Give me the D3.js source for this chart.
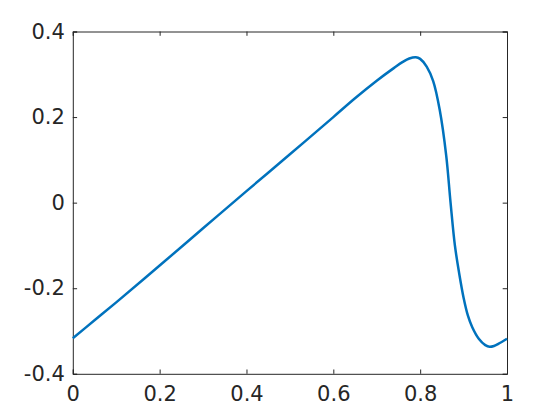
<!DOCTYPE html>
<html>
<head>
<meta charset="utf-8">
<script src="https://cdn.jsdelivr.net/npm/d3@7"></script>
<style>
	html, body { margin: 0; padding: 0; background: #fff; }
	svg { display: block; }
	.tick text { font-family: "DejaVu Sans", sans-serif; }
</style>
</head>
<body>
<svg id="chart" width="560" height="420"></svg>
<script>
// Curve samples
const xValues = [0, 0.05, 0.1, 0.2, 0.3, 0.4, 0.5, 0.6, 0.65, 0.7, 0.74, 0.76, 0.775, 0.79, 0.8, 0.815,
	0.83, 0.845, 0.86, 0.87, 0.88, 0.89, 0.9, 0.91, 0.92, 0.935, 0.95, 0.96, 0.97, 0.98, 1]
const yValues = [-0.317, -0.275, -0.233, -0.147, -0.06, 0.027, 0.113, 0.2, 0.244, 0.285, 0.315, 0.329, 0.337, 0.340, 0.336, 0.318,
	0.284, 0.217, 0.11, 0.0, -0.1, -0.166, -0.222, -0.264, -0.291, -0.318, -0.333, -0.337, -0.335, -0.33, -0.318]
const xTicks = [0, 0.2, 0.4, 0.6, 0.8, 1]
const yTicks = [-0.4, -0.2, 0, 0.2, 0.4]

const width = 560, height = 420
const margin = { top: 31.5, right: 53, bottom: 46.2, left: 72.8 }
const axisColour = "#262626"
const lineColour = "#0072BD"
const fontSize = 21

const svg = d3.select("#chart")
const plotW = width - margin.left - margin.right
const plotH = height - margin.top - margin.bottom

const x = d3.scaleLinear().domain([0, 1]).range([margin.left, margin.left + plotW])
const y = d3.scaleLinear().domain([-0.4, 0.4]).range([margin.top + plotH, margin.top])

const data = xValues.map((v, i) => ({ x: v, y: yValues[i] }))

// MATLAB style labels: plain hyphen, no trailing zeros
const fmt = d => String(+d.toFixed(1))

// Axes: ticks pointing inward, box on all four sides
function styleAxis(g) {
	g.select(".domain").attr("stroke", axisColour).attr("stroke-width", 1)
	g.selectAll(".tick line").attr("stroke", axisColour).attr("stroke-width", 1)
	g.selectAll(".tick text")
		.attr("fill", axisColour)
		.attr("font-size", fontSize)
}

svg.append("g")
	.attr("transform", `translate(0,${margin.top + plotH})`)
	.call(d3.axisBottom(x).tickValues(xTicks).tickSize(-4.3).tickPadding(12).tickFormat(fmt))
	.call(styleAxis)

svg.append("g")
	.attr("transform", `translate(0,${margin.top})`)
	.call(d3.axisTop(x).tickValues(xTicks).tickSize(-4.3).tickFormat(""))
	.call(styleAxis)

svg.append("g")
	.attr("transform", `translate(${margin.left},0)`)
	.call(d3.axisLeft(y).tickValues(yTicks).tickSize(-4.3).tickPadding(8).tickFormat(fmt))
	.call(styleAxis)

svg.append("g")
	.attr("transform", `translate(${margin.left + plotW},0)`)
	.call(d3.axisRight(y).tickValues(yTicks).tickSize(-4.3).tickFormat(""))
	.call(styleAxis)

// Curve
const line = d3.line()
	.x(d => x(d.x))
	.y(d => y(d.y))
	.curve(d3.curveCatmullRom.alpha(0.5))

svg.append("path")
	.datum(data)
	.attr("fill", "none")
	.attr("stroke", lineColour)
	.attr("stroke-width", 2.5)
	.attr("stroke-linejoin", "round")
	.attr("d", line)
</script>
</body>
</html>
